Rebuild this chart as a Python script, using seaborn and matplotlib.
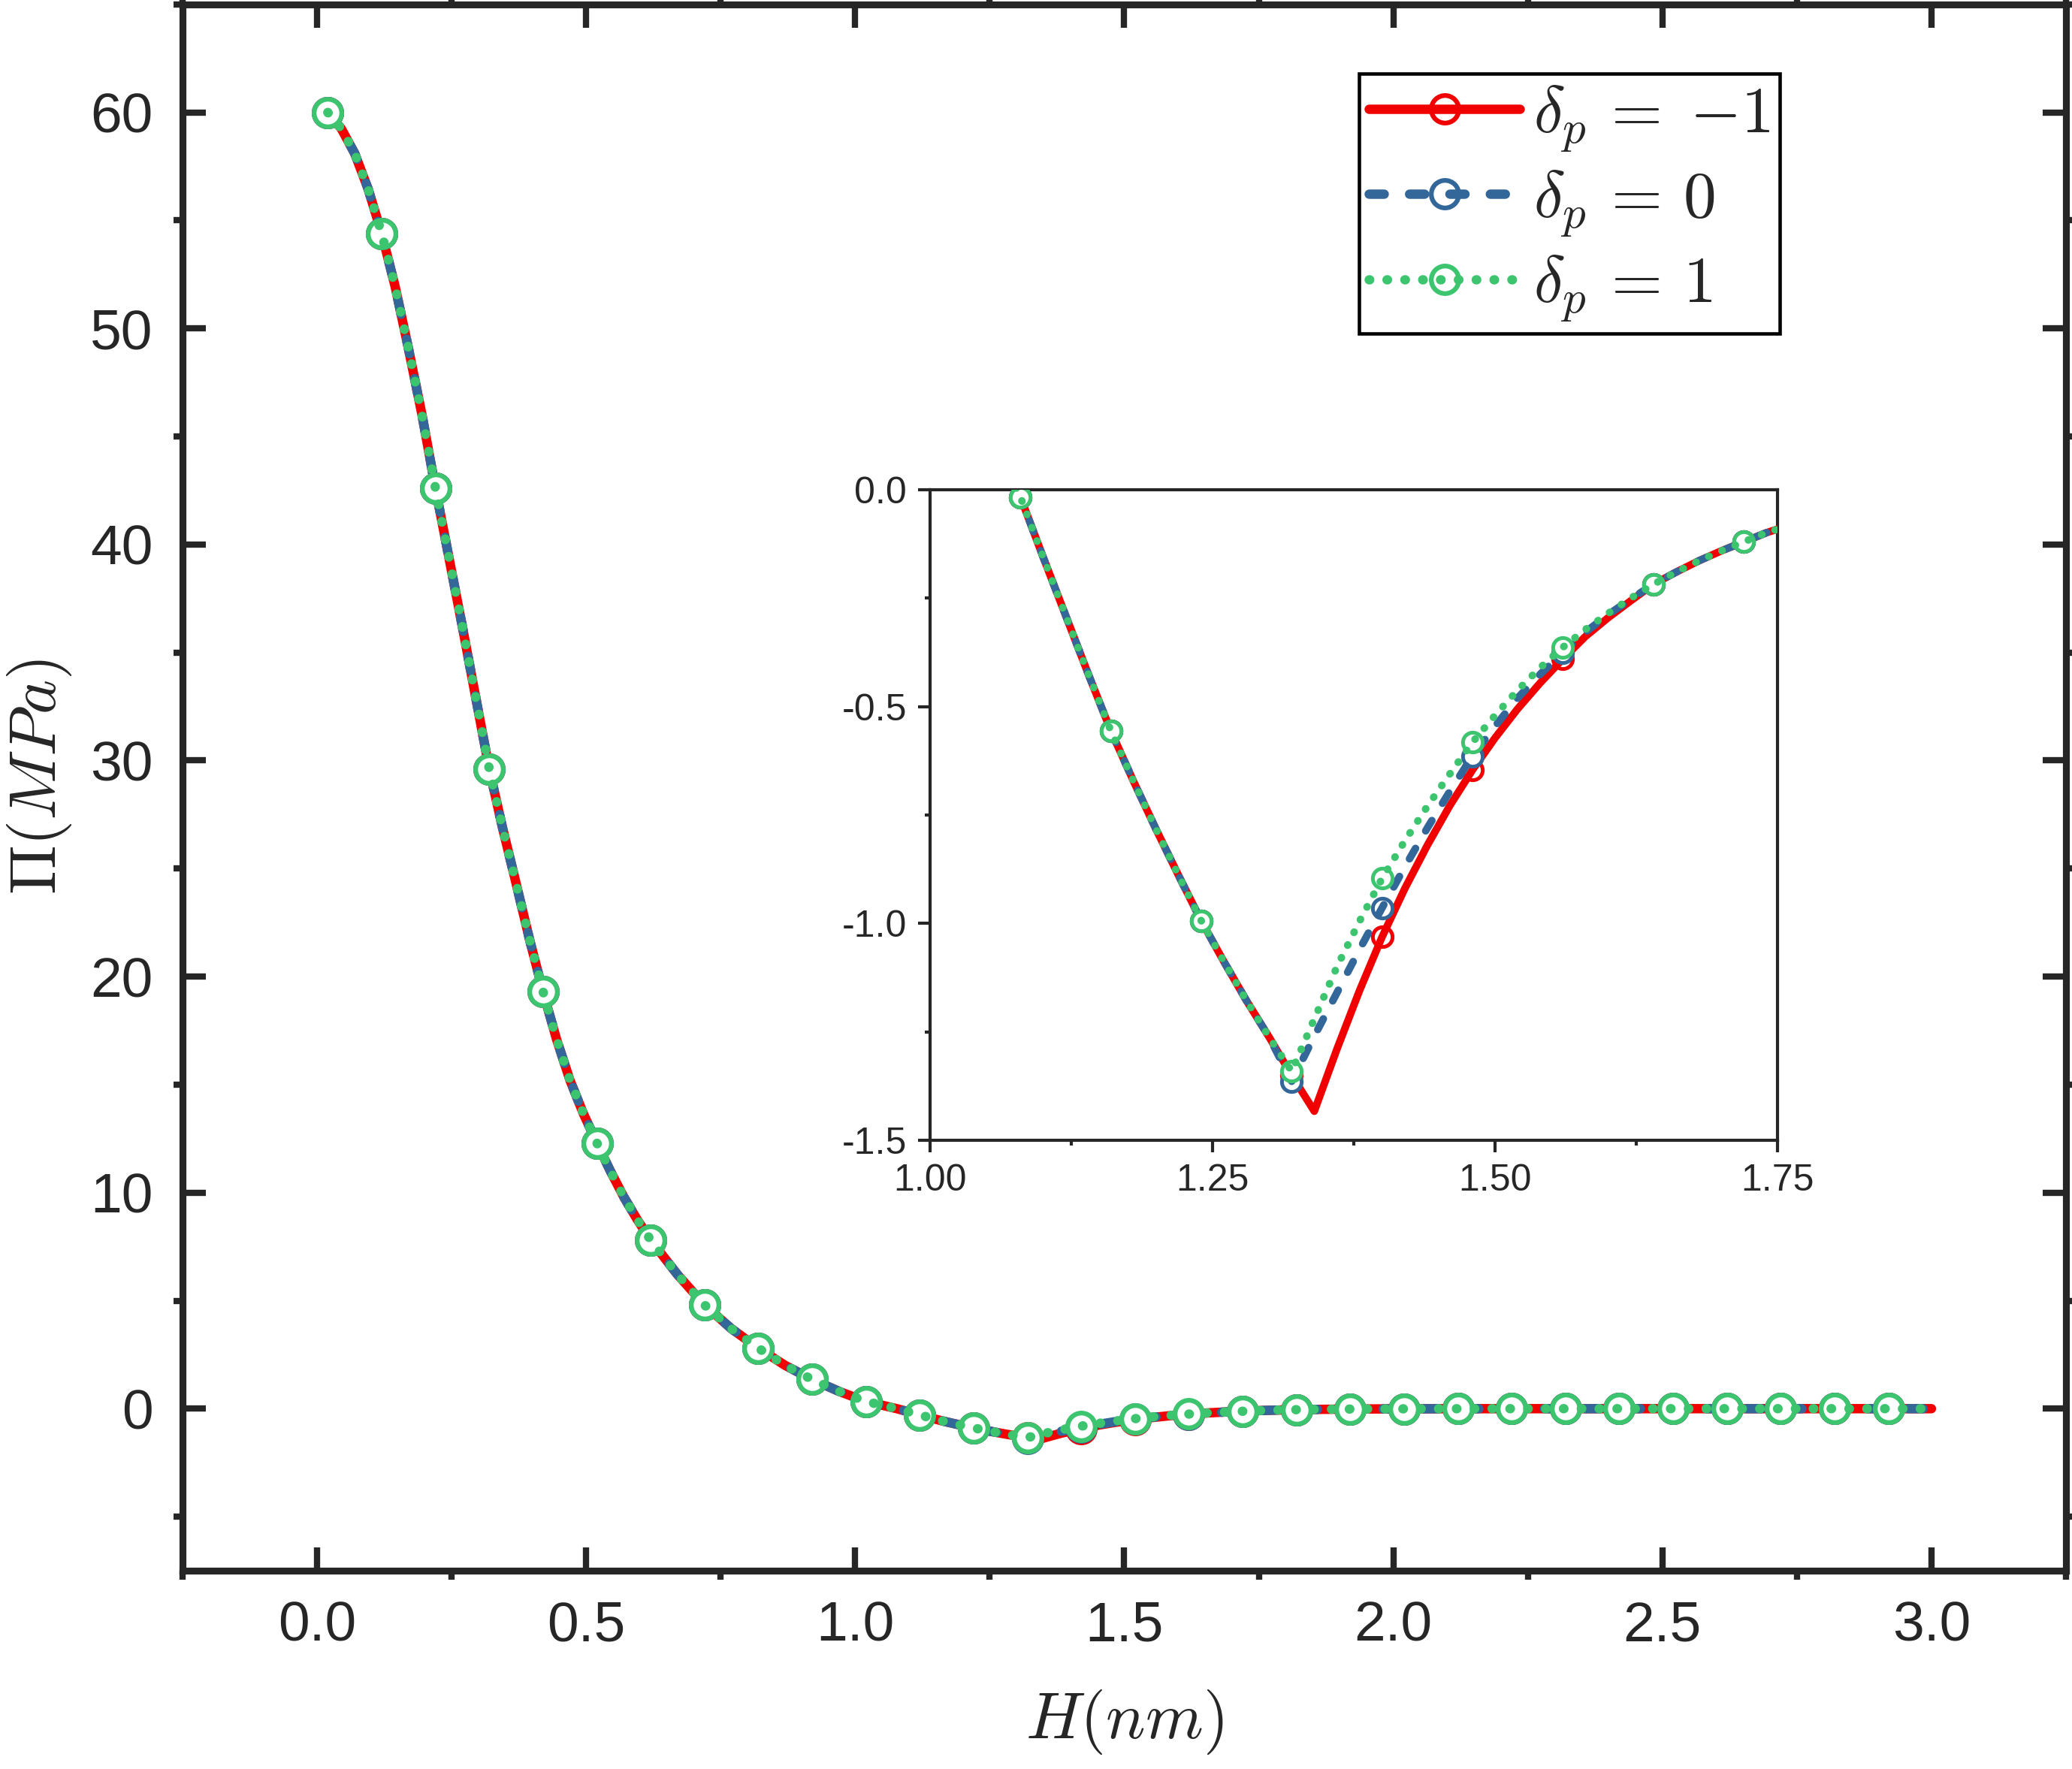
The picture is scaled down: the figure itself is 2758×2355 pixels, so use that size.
import numpy as np
import matplotlib
matplotlib.use("Agg")
import matplotlib.pyplot as plt
import seaborn as sns
from matplotlib.lines import Line2D
from matplotlib.ticker import MultipleLocator, FormatStrFormatter

# grid of film thickness H (nm)
H_head = [0.02, 0.045, 0.07, 0.095, 0.12, 0.145, 0.17, 0.195, 0.22, 0.245,
          0.27, 0.295, 0.32, 0.345, 0.37, 0.395, 0.42, 0.445, 0.47, 0.495,
          0.52, 0.545, 0.57, 0.595, 0.62, 0.67, 0.72, 0.77, 0.82, 0.87,
          0.92, 0.97, 1.02, 1.04, 1.06, 1.08, 1.10, 1.12, 1.14, 1.16,
          1.18, 1.20, 1.22, 1.24, 1.26, 1.28, 1.30]
H_mid = [1.32, 1.34, 1.36, 1.38, 1.40, 1.42, 1.44, 1.46, 1.48, 1.50,
         1.52, 1.54, 1.56, 1.58, 1.60, 1.62]
H_tail = [1.64, 1.66, 1.68, 1.70, 1.72, 1.74, 1.76, 1.78, 1.80, 1.82,
          1.87, 1.92, 1.97, 2.02, 2.07, 2.12, 2.17, 2.22, 2.27, 2.32,
          2.37, 2.42, 2.47, 2.52, 2.57, 2.62, 2.67, 2.72, 2.77, 2.82,
          2.87, 2.92, 2.97, 3.00]

# disjoining pressure (MPa), common part of the three curves
pi_head = [60.0, 59.25, 58.1, 56.45, 54.4, 51.95, 49.05, 46.0, 42.6, 39.4,
           36.2, 32.9, 29.6, 26.85, 24.3, 21.7, 19.3, 17.1, 15.2, 13.65,
           12.3, 11.0, 9.8, 8.75, 7.8, 6.2, 4.8, 3.7, 2.8, 2.0,
           1.35, 0.8, 0.33, 0.22, 0.10, -0.017, -0.155, -0.29, -0.425, -0.556,
           -0.672, -0.783, -0.89, -0.994, -1.088, -1.178, -1.262]
pi_tail = [-0.218, -0.19, -0.164, -0.141, -0.12, -0.099, -0.082, -0.068, -0.056, -0.047,
           -0.03, -0.019, -0.012, -0.007, -0.004, -0.002, -0.001, 0.0, 0.0, 0.0,
           0.0, 0.0, 0.0, 0.0, 0.0, 0.0, 0.0, 0.0, 0.0, 0.0,
           0.0, 0.0, 0.0, 0.0]

# the part where the curves split (around the minimum)
mid_m1 = [-1.35, -1.433, -1.29, -1.155, -1.031, -0.92, -0.82, -0.728, -0.646, -0.572,
          -0.505, -0.445, -0.39, -0.338, -0.295, -0.256]
mid_0 = [-1.364, -1.26, -1.16, -1.06, -0.964, -0.87, -0.78, -0.695, -0.614, -0.545,
         -0.48, -0.425, -0.375, -0.328, -0.288, -0.252]
mid_p1 = [-1.341, -1.22, -1.10, -0.995, -0.896, -0.81, -0.73, -0.655, -0.582, -0.52,
          -0.462, -0.41, -0.363, -0.322, -0.285, -0.25]

# symbol positions
H_mark_main = [0.02, 0.12, 0.22, 0.32, 0.42, 0.52, 0.62, 0.72, 0.82, 0.92,
               1.02, 1.12, 1.22, 1.32, 1.42, 1.52, 1.62, 1.72, 1.82, 1.92,
               2.02, 2.12, 2.22, 2.32, 2.42, 2.52, 2.62, 2.72, 2.82, 2.92]
H_mark_inset = [1.08, 1.16, 1.24, 1.32, 1.40, 1.48, 1.56, 1.64, 1.72]

labels = [r"$\delta_p\,=\;{-1}$", r"$\delta_p\,=\,0$", r"$\delta_p\,=\,1$"]
colors = ["#f00000", "#336699", "#3cc46f"]
styles = ["-", (0, (1.6, 2.7)), (0, (0.05, 1.85))]

H = np.array(H_head + H_mid + H_tail)
series = [np.array(pi_head + m + pi_tail) for m in (mid_m1, mid_0, mid_p1)]

sns.set_style("ticks")
plt.rcParams["font.family"] = ["Liberation Sans", "DejaVu Sans"]
plt.rcParams["mathtext.fontset"] = "cm"
plt.rcParams["axes.unicode_minus"] = False

fig = plt.figure(figsize=(2758 / 300, 2355 / 300), dpi=300)
ax = fig.add_axes([0.0881, 0.1121, 0.9090, 0.8854])
axin = fig.add_axes([0.4489, 0.3554, 0.409, 0.3677])


def draw(a, marks, lw, ms, mew):
    for i, (y, c, ls) in enumerate(zip(series, colors, styles)):
        idx = [int(np.argmin(np.abs(H - m))) for m in marks]
        # white-filled symbols first, then the line on top of them
        a.plot(H[idx], y[idx], "o", ms=ms, mew=mew, mec=c, mfc="white",
               ls="none", zorder=2 + 2 * i)
        sns.lineplot(x=H, y=y, ax=a, color=c, lw=lw, linestyle=ls,
                     dash_capstyle="round", solid_capstyle="round",
                     estimator=None, sort=False, zorder=3 + 2 * i)


draw(ax, H_mark_main, 3.0, 8.8, 1.5)
draw(axin, H_mark_inset, 2.4, 6.3, 1.2)

# main axes
ax.set_xlim(-0.25, 3.25)
ax.set_ylim(-7.5, 65)
ax.xaxis.set_major_locator(MultipleLocator(0.5))
ax.xaxis.set_minor_locator(MultipleLocator(0.25))
ax.yaxis.set_major_locator(MultipleLocator(10))
ax.yaxis.set_minor_locator(MultipleLocator(5))
ax.xaxis.set_major_formatter(FormatStrFormatter("%.1f"))
ax.tick_params(which="major", direction="in", length=7.4, width=2.0,
               top=True, right=True, labelsize=18, pad=9.5)
ax.tick_params(which="minor", direction="out", length=2.9, width=2.0,
               top=True, right=True)
for s in ax.spines.values():
    s.set_linewidth(2.2)
ax.set_xlabel(r"$H(nm)$", fontsize=21)
ax.set_ylabel(r"$\Pi(MPa)$", fontsize=21)
ax.xaxis.set_label_coords(0.5, -0.075)
ax.yaxis.set_label_coords(-0.058, 0.507)

# inset
axin.set_xlim(1.0, 1.75)
axin.set_ylim(-1.5, 0.0)
axin.xaxis.set_major_locator(MultipleLocator(0.25))
axin.xaxis.set_minor_locator(MultipleLocator(0.125))
axin.yaxis.set_major_locator(MultipleLocator(0.5))
axin.yaxis.set_minor_locator(MultipleLocator(0.25))
axin.xaxis.set_major_formatter(FormatStrFormatter("%.2f"))
axin.yaxis.set_major_formatter(FormatStrFormatter("%.1f"))
axin.tick_params(which="major", direction="out", length=3.8, width=1.0,
                 labelsize=12, pad=3.6)
axin.tick_params(which="minor", direction="out", length=1.7, width=1.0)
for s in axin.spines.values():
    s.set_linewidth(1.0)
axin.set_xlabel("")
axin.set_ylabel("")

# legend
handles = [Line2D([0], [0], color=c, lw=3.0, linestyle=ls, dash_capstyle="round",
                  solid_capstyle="round", marker="o", ms=8.8, mew=1.5,
                  mec=c, mfc="none")
           for c, ls in zip(colors, styles)]
leg = ax.legend(handles, labels, loc="upper right", bbox_to_anchor=(0.848, 0.956),
                borderaxespad=0, fontsize=21, frameon=True, fancybox=False,
                edgecolor="black", framealpha=1, handlelength=2.3,
                handletextpad=0.2, borderpad=0.15, labelspacing=0.22)
leg.get_frame().set_linewidth(1.1)

fig.savefig("out.png", dpi=300)
